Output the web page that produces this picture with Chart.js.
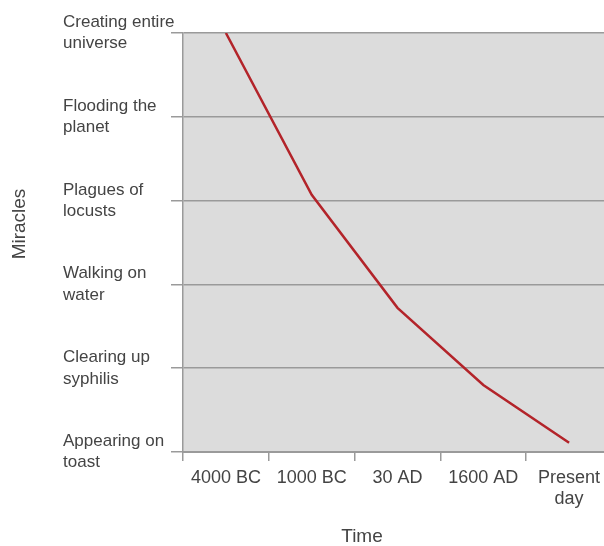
<!DOCTYPE html>
<html>
<head>
<meta charset="utf-8">
<script src="https://cdn.jsdelivr.net/npm/chart.js@4"></script>
<style>
  html, body { margin: 0; padding: 0; background: #fff; overflow: hidden; }
  #wrap { width: 612px; height: 546px; position: relative; }
</style>
</head>
<body>
<div id="wrap"><canvas id="c"></canvas></div>
<script>
const timeLabels = [["4000 BC"], ["1000 BC"], ["30 AD"], ["1600 AD"], ["Present", "day"]];
const miracleLabels = [
  ["Appearing on", "toast"],
  ["Clearing up", "syphilis"],
  ["Walking on", "water"],
  ["Plagues of", "locusts"],
  ["Flooding the", "planet"],
  ["Creating entire", "universe"]
];
const miracleValues = [5, 3.07, 1.72, 0.80, 0.11];
const xTitle = "Time";
const yTitle = "Miracles";

const textColor = '#444';
const gridColor = '#9a9a9a';

const bgPlugin = {
  id: 'bg',
  beforeDraw(chart) {
    const { ctx, chartArea: a } = chart;
    ctx.save();
    ctx.fillStyle = '#dcdcdc';
    ctx.fillRect(a.left, a.top, a.right - a.left, a.bottom - a.top);
    ctx.restore();
  }
};

const axisTitles = {
  id: 'axisTitles',
  afterDraw(chart) {
    const { ctx } = chart;
    ctx.save();
    ctx.fillStyle = textColor;
    ctx.font = '19px "Liberation Sans", Arial, sans-serif';
    ctx.textAlign = 'center';
    ctx.textBaseline = 'middle';
    ctx.fillText(xTitle, 362, 537);
    ctx.translate(20, 224);
    ctx.rotate(-Math.PI / 2);
    ctx.fillText(yTitle, 0, 0);
    ctx.restore();
  }
};

new Chart(document.getElementById('c'), {
  type: 'line',
  data: {
    labels: timeLabels,
    datasets: [{
      data: miracleValues,
      borderColor: '#b3242a',
      borderWidth: 2.5,
      pointRadius: 0,
      tension: 0,
      fill: false
    }]
  },
  options: {
    responsive: true,
    maintainAspectRatio: false,
    animation: false,
    layout: { padding: { left: 63, top: 33, right: 0, bottom: 0 } },
    plugins: { legend: { display: false }, tooltip: { enabled: false } },
    scales: {
      x: {
        type: 'category',
        offset: true,
        grid: {
          offset: true,
          drawOnChartArea: false,
          drawTicks: true,
          tickLength: 9,
          color: gridColor,
          lineWidth: 1.5
        },
        border: { color: gridColor, width: 2 },
        ticks: {
          color: textColor,
          font: { family: '"Liberation Sans", Arial, sans-serif', size: 18, lineHeight: 1.2 },
          padding: 6,
          maxRotation: 0,
          autoSkip: false
        },
        afterFit(scale) { scale.height = 94; }
      },
      y: {
        min: 0,
        max: 5,
        grid: {
          color: gridColor,
          lineWidth: 1.5,
          tickLength: 12,
          drawTicks: true
        },
        border: { color: gridColor, width: 1.5 },
        ticks: {
          stepSize: 1,
          color: textColor,
          crossAlign: 'far',
          font: { family: '"Liberation Sans", Arial, sans-serif', size: 17, lineHeight: 1.25 },
          callback: (v) => miracleLabels[v]
        },
        afterFit(scale) { scale.width = 120; }
      }
    }
  },
  plugins: [bgPlugin, axisTitles]
});
</script>
</body>
</html>
